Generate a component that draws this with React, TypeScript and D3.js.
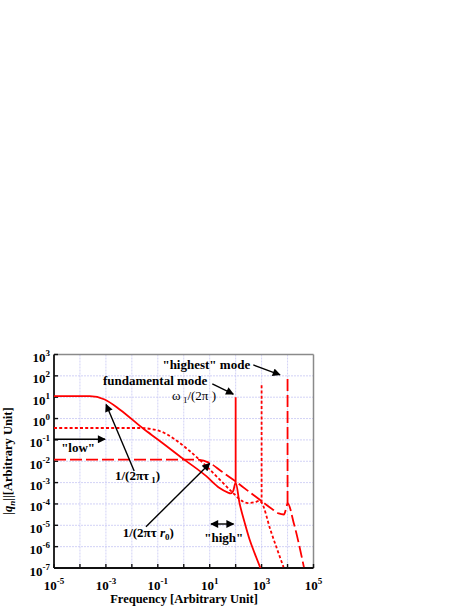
import React from 'react';
import * as d3 from 'd3';

const WIDTH = 469;
const HEIGHT = 607;
const FONT = '"Liberation Serif", "Times New Roman", serif';

// axis ticks
const xTicks = [1e-5, 1e-3, 1e-1, 1e1, 1e3, 1e5];
const xTickExp = ['-5', '-3', '-1', '1', '3', '5'];
const yTicks = [1e3, 1e2, 1e1, 1e0, 1e-1, 1e-2, 1e-3, 1e-4, 1e-5, 1e-6, 1e-7];
const yTickExp = ['3', '2', '1', '0', '-1', '-2', '-3', '-4', '-5', '-6', '-7'];
const xDecades = [1e-5, 1e-4, 1e-3, 1e-2, 1e-1, 1e0, 1e1, 1e2, 1e3, 1e4, 1e5];

// fundamental mode (solid)
const fundFreq = [1e-5, 2.4e-4, 9e-4, 3.5e-3, 2.8e-2, 0.1, 0.93, 7.4, 24, 51, 63, 80, 100, 141, 224, 347, 537, 900];
const fundAmp = [11.2, 11.2, 7.8, 2.6, 0.33, 0.105, 0.0133, 2e-3, 5.6e-4, 3.4e-4, 3.1e-4, 4e-4, 1e-3, 1.1e-4, 1.3e-5, 2.1e-6, 5e-7, 1e-7];
const fundSpike = { freq: 100, base: 1e-3, top: 10 };

// intermediate mode (dotted)
const midFreq = [1e-5, 0.02, 0.12, 0.39, 1.7, 7.4, 24, 79, 190, 295, 537, 850, 1000, 2200, 7000];
const midAmp = [0.36, 0.36, 0.26, 0.12, 0.03, 5.9e-3, 1.4e-3, 3.3e-4, 1.3e-4, 1.1e-4, 1.2e-4, 1.4e-4, 1.15e-4, 6e-6, 1.1e-7];
const midSpike = { freq: 1000, base: 1.15e-4, top: 37 };

// "highest" mode (dashed)
const highFreq = [1e-5, 3.1, 10, 28, 79, 257, 830, 2750, 4570, 7200, 9300, 1e4, 17400, 42700];
const highAmp = [0.012, 0.012, 8.3e-3, 3.4e-3, 1.4e-3, 4.7e-4, 1.6e-4, 5.4e-5, 3.6e-5, 3.2e-5, 8e-5, 1.1e-4, 1.26e-5, 1.1e-7];
const highSpike = { freq: 1e4, base: 1.1e-4, top: 100 };

const series = [
  { freq: fundFreq, amp: fundAmp, spike: fundSpike, dash: null },
  { freq: midFreq, amp: midAmp, spike: midSpike, dash: '3,2.2' },
  { freq: highFreq, amp: highAmp, spike: highSpike, dash: '12,4' },
];

// annotation arrows in data coordinates [freq, amp]
const arrows = [
  { from: [480, 324], to: [5100, 112] },
  { from: [12.6, 41.7], to: [81, 14] },
  { from: [1e-5, 0.107], to: [9.3e-4, 0.107] },
  { from: [0.0123, 3.5e-3], to: [1.02e-3, 4.6] },
  { from: [0.035, 8.5e-6], to: [10, 7.9e-3] },
];

export default function App() {
  const x = d3.scaleLog().domain([1e-5, 1e5]).range([54, 313.5]);
  const y = d3.scaleLog().domain([1e-7, 1e3]).range([568, 354.5]);
  const line = d3
    .line<[number, number]>()
    .x((d) => x(d[0]))
    .y((d) => y(d[1]))
    .curve(d3.curveMonotoneX);

  const x0 = x.range()[0], x1 = x.range()[1];
  const yb = y.range()[0], yt = y.range()[1];

  return (
    <svg width={WIDTH} height={HEIGHT} style={{ position: 'absolute', left: 0, top: 0 }} fontFamily={FONT} fontWeight="bold">
      <defs>
        <clipPath id="plot">
          <rect x={x0} y={yt} width={x1 - x0} height={yb - yt} />
        </clipPath>
        <marker id="head" viewBox="0 0 10 10" refX="9" refY="5" markerWidth="9" markerHeight="8" markerUnits="userSpaceOnUse" orient="auto-start-reverse">
          <path d="M0,0 L10,5 L0,10 Z" fill="#000" />
        </marker>
      </defs>
      <rect width={WIDTH} height={HEIGHT} fill="#fff" />

      {/* grid */}
      <g stroke="#c6c6f4" strokeWidth={0.8} strokeDasharray="2,1">
        {xDecades.slice(1, -1).map((d, i) => (
          <line key={'gx' + i} x1={x(d)} x2={x(d)} y1={yt} y2={yb} />
        ))}
        {yTicks.slice(1, -1).map((d, i) => (
          <line key={'gy' + i} x1={x0} x2={x1} y1={y(d)} y2={y(d)} />
        ))}
      </g>

      {/* frame */}
      <line x1={x0} x2={x1} y1={yt} y2={yt} stroke="#8a8a8a" strokeWidth={1.5} />
      <line x1={x1} x2={x1} y1={yt} y2={yb} stroke="#8a8a8a" strokeWidth={1.5} />
      <line x1={x0} x2={x0} y1={yt} y2={yb} stroke="#111" strokeWidth={1.8} />
      <line x1={x0} x2={x1} y1={yb} y2={yb} stroke="#111" strokeWidth={1.8} />
      <g stroke="#111" strokeWidth={1.4}>
        {xDecades.map((d, i) => (
          <line key={'tx' + i} x1={x(d)} x2={x(d)} y1={yb} y2={yb - 4} />
        ))}
        {yTicks.map((d, i) => (
          <line key={'ty' + i} x1={x0} x2={x0 + 4} y1={y(d)} y2={y(d)} />
        ))}
      </g>

      {/* tick labels */}
      <g fontSize={13} fill="#000">
        {xTicks.map((d, i) => (
          <text key={'lx' + i} x={x(d)} y={590} textAnchor="middle">
            10<tspan fontSize={9} dy={-6}>{xTickExp[i]}</tspan>
          </text>
        ))}
        {yTicks.map((d, i) => (
          <text key={'ly' + i} x={50} y={y(d) + 7.5} textAnchor="end">
            10<tspan fontSize={9} dy={-6}>{yTickExp[i]}</tspan>
          </text>
        ))}
      </g>

      {/* curves */}
      <g clipPath="url(#plot)" fill="none" stroke="#ff0000" strokeWidth={1.8}>
        {series.map((s, i) => (
          <g key={'s' + i} strokeDasharray={s.dash || undefined}>
            <path d={line(s.freq.map((f, j) => [f, s.amp[j]] as [number, number])) || ''} />
            <line x1={x(s.spike.freq)} x2={x(s.spike.freq)} y1={y(s.spike.base)} y2={y(s.spike.top)} />
          </g>
        ))}
      </g>

      {/* arrows */}
      <g stroke="#000" strokeWidth={1.4}>
        {arrows.map((a, i) => (
          <line key={'a' + i} x1={x(a.from[0])} y1={y(a.from[1])} x2={x(a.to[0])} y2={y(a.to[1])} markerEnd="url(#head)" />
        ))}
        <line x1={x(11.2)} x2={x(83)} y1={y(1.15e-5)} y2={y(1.15e-5)} markerStart="url(#head)" markerEnd="url(#head)" />
      </g>

      {/* annotation texts */}
      <g fontSize={13} fill="#000">
        <text x={x(7.4)} y={y(209)} textAnchor="middle">"highest" mode</text>
        <text x={x(0.079)} y={y(37)} textAnchor="middle">fundamental mode</text>
        <text x={x(2.5)} y={y(7.4)} textAnchor="middle" fontWeight="normal">
          ω<tspan fontSize={9} dy={3}> 1</tspan><tspan dy={-3}>/(2π )</tspan>
        </text>
        <text x={x(8.5e-5)} y={y(0.028)} textAnchor="middle">"low"</text>
        <text x={x(0.0166)} y={y(1.3e-3)} textAnchor="middle">
          1/(2πτ<tspan fontSize={9} dy={3}> 1</tspan><tspan dy={-3}>)</tspan>
        </text>
        <text x={x(0.043)} y={y(2.95e-6)} textAnchor="middle">
          1/(2πτ <tspan fontStyle="italic">r</tspan><tspan fontSize={9} dy={3}>0</tspan><tspan dy={-3}>)</tspan>
        </text>
        <text x={x(35)} y={y(1.7e-6)} textAnchor="middle">"high"</text>
      </g>

      {/* axis titles */}
      <text x={184} y={603} textAnchor="middle" fontSize={12.5}>Frequency [Arbitrary Unit]</text>
      <text transform="translate(12,461) rotate(-90)" textAnchor="middle" fontSize={12.5}>
        |<tspan fontStyle="italic">q</tspan><tspan fontStyle="italic" fontSize={9} dy={3}>n</tspan><tspan dy={-3}>||[Arbitrary Unit]</tspan>
      </text>
    </svg>
  );
}
